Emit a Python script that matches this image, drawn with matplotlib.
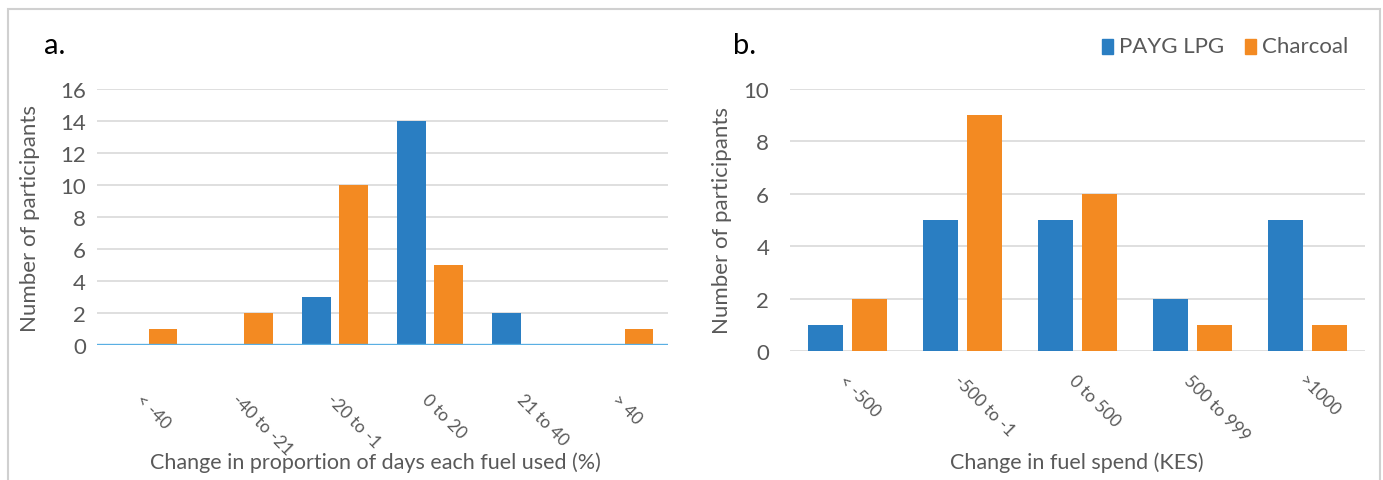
import matplotlib.pyplot as plt
import numpy as np
from matplotlib.patches import Rectangle

# panel a data
cats_a = ["< -40", "-40 to -21", "-20 to -1", "0 to 20", "21 to 40", "> 40"]
lpg_a = [0, 0, 3, 14, 2, 0]
charcoal_a = [1, 2, 10, 5, 0, 1]

# panel b data
cats_b = ["< -500", "-500 to -1", "0 to 500", "500 to 999", ">1000"]
lpg_b = [1, 5, 5, 2, 5]
charcoal_b = [2, 9, 6, 1, 1]

BLUE = "#2A7EC2"
ORANGE = "#F38A22"
GREY_TXT = "#595959"
GRID = "#D9D9D9"

plt.rcParams['font.family'] = ['Lato', 'DejaVu Sans']

W, H = 1383, 481
fig = plt.figure(figsize=(W / 100, H / 100), dpi=100)

# outer frame
fig.patches.append(Rectangle((8 / W, -0.01), 1372 / W, (481 - 10) / H + 0.01,
                             transform=fig.transFigure, fill=False,
                             edgecolor="#D0D0D0", linewidth=1.5))


def fx(px):
    return px / W


def fy(py):
    return 1 - py / H


def draw(ax, cats, lpg, charcoal, ymax, ystep, off, width, xpad, ypad):
    x = np.arange(len(cats))
    ax.bar(x - off, lpg, width, color=BLUE, zorder=3)
    ax.bar(x + off, charcoal, width, color=ORANGE, zorder=3)
    ax.set_xlim(-0.5, len(cats) - 0.5)
    ax.set_ylim(0, ymax)
    ax.set_yticks(np.arange(0, ymax + 1, ystep))
    ax.yaxis.grid(True, color=GRID, linewidth=1.2, zorder=0)
    for s in ax.spines.values():
        s.set_visible(False)
    ax.tick_params(axis='y', length=0, pad=ypad, labelsize=16, labelcolor=GREY_TXT)
    ax.set_xticks(x)
    ax.set_xticklabels(cats, rotation=-45, ha='left', va='top',
                       rotation_mode='anchor', fontsize=12.5, color=GREY_TXT)
    ax.tick_params(axis='x', length=0, pad=xpad)
    ax.set_ylabel("Number of participants", fontsize=16, color=GREY_TXT)


ax1 = fig.add_axes([fx(97), fy(346), fx(668 - 97), (346 - 90) / H])
draw(ax1, cats_a, lpg_a, charcoal_a, 16, 2, 0.195, 0.3, 33, 8)
ax1.axhline(0, color="#5AAFE3", linewidth=2.4, zorder=4)
ax1.yaxis.set_label_coords(-0.1, 0.5)

ax2 = fig.add_axes([fx(790), fy(352), fx(1365 - 790), (352 - 90) / H])
draw(ax2, cats_b, lpg_b, charcoal_b, 10, 2, 0.19, 0.3, 15, 15)
ax2.yaxis.set_label_coords(-0.1, 0.5)

fig.text(fx(375), fy(463), "Change in proportion of days each fuel used (%)",
         ha='center', va='center', fontsize=15.5, color=GREY_TXT)
fig.text(fx(1077), fy(463), "Change in fuel spend (KES)",
         ha='center', va='center', fontsize=15.5, color=GREY_TXT)

fig.text(fx(44), fy(46), "a.", ha='left', va='center', fontsize=21, color="black")
fig.text(fx(733), fy(46), "b.", ha='left', va='center', fontsize=21, color="black")

# legend
fig.patches.append(Rectangle((fx(1102), fy(55)), fx(11), 15 / H, transform=fig.transFigure,
                             color=BLUE))
fig.text(fx(1119), fy(47), "PAYG LPG", ha='left', va='center', fontsize=16, color=GREY_TXT)
fig.patches.append(Rectangle((fx(1245), fy(55)), fx(11), 15 / H, transform=fig.transFigure,
                             color=ORANGE))
fig.text(fx(1262), fy(47), "Charcoal", ha='left', va='center', fontsize=16, color=GREY_TXT)

fig.savefig("out.png", dpi=100)
